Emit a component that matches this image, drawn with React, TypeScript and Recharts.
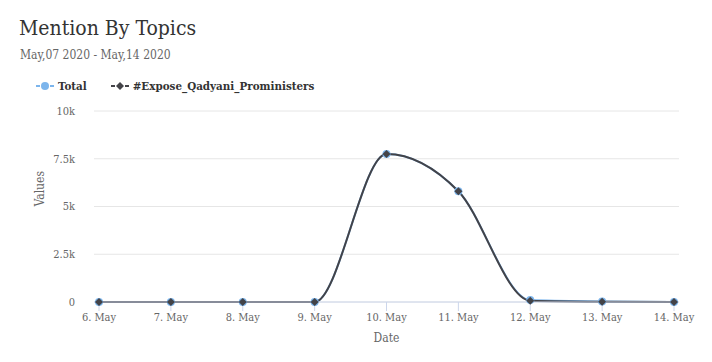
import React from "react";
import { LineChart, Line, XAxis, YAxis, CartesianGrid, Legend } from "recharts";

const dates = ["6. May", "7. May", "8. May", "9. May", "10. May", "11. May", "12. May", "13. May", "14. May"];
const totalValues = [0, 0, 0, 0, 7750, 5800, 100, 30, 0];
const exposeValues = [0, 0, 0, 0, 7750, 5800, 70, 15, 0];
const yTicks = [0, 2500, 5000, 7500, 10000];

const seriesNames = { total: "Total", expose: "#Expose_Qadyani_Proministers" };
const colors = { total: "#7cb5ec", expose: "#434348" };

const data = dates.map((date, i) => ({
  date,
  total: totalValues[i],
  expose: exposeValues[i],
}));

const font = "'DejaVu Serif', serif";

const formatTick = (v: number) => (v === 0 ? "0" : `${v / 1000}k`);

function DiamondDot(props: any) {
  const { cx, cy } = props;
  if (cx == null || cy == null) return null;
  const r = 4;
  return (
    <path
      d={`M${cx},${cy - r} L${cx + r},${cy} L${cx},${cy + r} L${cx - r},${cy} Z`}
      fill={colors.expose}
    />
  );
}

function LegendContent() {
  const items = [
    { name: seriesNames.total, color: colors.total, shape: "circle" },
    { name: seriesNames.expose, color: colors.expose, shape: "diamond" },
  ];
  return (
    <div style={{ display: "flex", alignItems: "center", fontFamily: font, fontSize: 11.5, fontWeight: "bold", color: "#333" }}>
      {items.map((it) => (
        <div key={it.name} style={{ display: "flex", alignItems: "center", marginRight: 24 }}>
          <svg width={18} height={12} style={{ marginRight: 4 }}>
            <line x1={0} y1={6} x2={4} y2={6} stroke={it.color} strokeWidth={2} />
            <line x1={14} y1={6} x2={18} y2={6} stroke={it.color} strokeWidth={2} />
            {it.shape === "circle" ? (
              <circle cx={9} cy={6} r={4} fill={it.color} />
            ) : (
              <path d="M9,2 L13,6 L9,10 L5,6 Z" fill={it.color} />
            )}
          </svg>
          <span>{it.name}</span>
        </div>
      ))}
    </div>
  );
}

export default function App() {
  return (
    <div style={{ position: "fixed", left: 0, top: 0, width: 712, height: 362, background: "#fff", fontFamily: font, fontStretch: "condensed" }}>
      <div style={{ position: "absolute", left: 19, top: 16, fontSize: 21, color: "#333" }}>
        Mention By Topics
      </div>
      <div style={{ position: "absolute", left: 20, top: 48, fontSize: 12, color: "#666" }}>
        May,07 2020 - May,14 2020
      </div>
      <LineChart width={712} height={362} data={data} margin={{ top: 111, right: 33, bottom: 30, left: 0 }}>
        <Legend
          layout="horizontal"
          verticalAlign="middle"
          align="center"
          content={<LegendContent />}
          wrapperStyle={{ top: 79, left: 36, width: "auto" }}
        />
        <CartesianGrid vertical={false} stroke="#e6e6e6" />
        <XAxis
          dataKey="date"
          padding={{ left: 5, right: 5 }}
          axisLine={{ stroke: "#ccd6eb" }}
          tickLine={{ stroke: "#ccd6eb" }}
          tickSize={9}
          height={30}
          interval={0}
          tick={{ fill: "#666", fontSize: 11, fontFamily: font }}
          label={{ value: "Date", position: "insideBottom", offset: -10, fill: "#666", fontSize: 12, fontFamily: font }}
        />
        <YAxis
          domain={[0, 10000]}
          ticks={yTicks}
          tickFormatter={formatTick}
          width={94}
          axisLine={false}
          tickLine={false}
          tickMargin={13}
          tick={{ fill: "#666", fontSize: 11, fontFamily: font }}
          label={{ value: "Values", angle: -90, position: "insideLeft", offset: 40, fill: "#666", fontSize: 12, fontFamily: font }}
        />
        <Line
          type="monotone"
          dataKey="total"
          name={seriesNames.total}
          stroke={colors.total}
          strokeWidth={2}
          dot={{ r: 4, fill: colors.total, stroke: colors.total, strokeWidth: 0 }}
          isAnimationActive={false}
        />
        <Line
          type="monotone"
          dataKey="expose"
          name={seriesNames.expose}
          stroke={colors.expose}
          strokeWidth={2}
          dot={<DiamondDot />}
          isAnimationActive={false}
        />
      </LineChart>
    </div>
  );
}
